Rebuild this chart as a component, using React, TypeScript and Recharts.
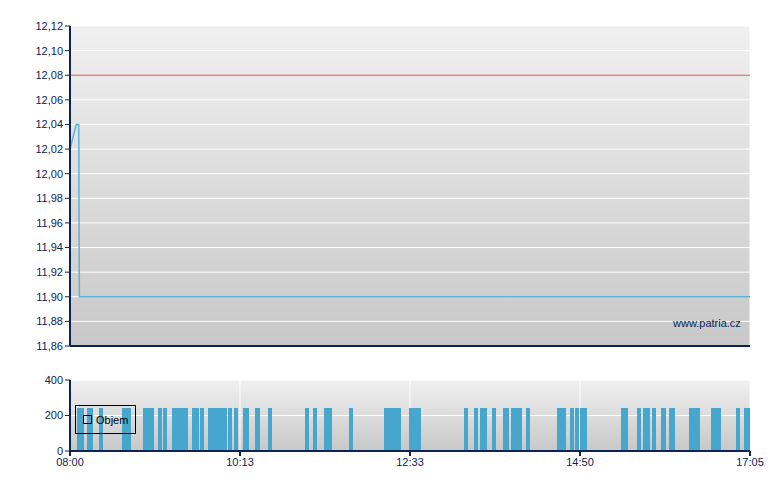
import React from 'react';
import {
  LineChart,
  Line,
  BarChart,
  Bar,
  XAxis,
  YAxis,
  CartesianGrid,
  ReferenceLine,
  Legend,
} from 'recharts';

// time axis is in minutes after the 08:00 open
const timeTicks = [0, 136.25, 272.5, 408.75, 545];
const timeLabels = ['08:00', '10:13', '12:33', '14:50', '17:05'];

// price line
const priceMinutes = [0, 5, 7, 7.5, 545];
const prices = [12.02, 12.04, 12.04, 11.9, 11.9];
const referencePrice = 12.08;
const priceTicks = [11.86, 11.88, 11.9, 11.92, 11.94, 11.96, 11.98, 12.0, 12.02, 12.04, 12.06, 12.08, 12.1, 12.12];

// volume (Objem) per trade
const volumeMinutes = [
  7, 10, 15, 17, 25, 43, 45, 47, 60, 63, 66, 72, 76, 83, 86, 89, 91, 93,
  99, 102, 106, 112, 115, 118, 121, 124, 128, 133, 140, 142, 150, 151, 160,
  190, 196, 205, 208, 225, 253, 256, 259, 262, 264, 273, 276, 278, 280,
  317, 325, 330, 333, 340, 349, 350, 355, 358, 361, 367,
  392, 394, 396, 402, 406, 410, 413, 443, 446, 456, 461, 463, 468, 475, 476,
  482, 483, 498, 501, 503, 515, 518, 520, 535, 542, 543,
];
const volumes = [
  240, 240, 240, 240, 240, 240, 240, 240, 240, 240, 240, 240, 240, 240, 240, 240, 240, 240,
  240, 240, 240, 240, 240, 240, 240, 240, 240, 240, 240, 240, 240, 240, 240,
  240, 240, 240, 240, 240, 240, 240, 240, 240, 240, 240, 240, 240, 240,
  240, 240, 240, 240, 240, 240, 240, 240, 240, 240, 240,
  240, 240, 240, 240, 240, 240, 240, 240, 240, 240, 240, 240, 240, 240, 240,
  240, 240, 240, 240, 240, 240, 240, 240, 240, 240, 240,
];
const volumeTicks = [0, 200, 400];

const NAVY = '#0c2454';
const FONT = '"Liberation Sans", Arial, sans-serif';

const priceData = priceMinutes.map((t, i) => ({ t, price: prices[i] }));
const volumeData = volumeMinutes.map((t, i) => ({ t, objem: volumes[i] }));

const fmtTime = (v: number) => timeLabels[timeTicks.indexOf(v)] ?? '';
const fmtPrice = (v: number) => v.toFixed(2).replace('.', ',');

const tickStyle = { fontSize: 11, fill: NAVY, fontFamily: FONT };

// every trade drawn as a fixed ~4px bar centred on its time
const VolumeBar = (props: any) => {
  const { x, y, width, height, fill } = props;
  if (!height || height <= 0) return null;
  const cx = x + width / 2;
  return (
    <rect
      x={Math.round(cx - 2)}
      y={Math.round(y)}
      width={4}
      height={Math.round(y + height) - Math.round(y)}
      fill={fill}
      shapeRendering="crispEdges"
    />
  );
};

const LegendBox = () => (
  <div
    style={{
      boxSizing: 'border-box',
      width: 61,
      height: 29,
      border: '1px solid #000',
      display: 'flex',
      alignItems: 'center',
      paddingLeft: 7,
      fontSize: 11,
      fontFamily: FONT,
      color: '#000',
    }}
  >
    <span
      style={{
        display: 'inline-block',
        boxSizing: 'border-box',
        width: 9,
        height: 9,
        border: '1px solid #000',
        marginRight: 4,
      }}
    />
    Objem
  </div>
);

export default function App() {
  return (
    <div style={{ position: 'absolute', left: 0, top: 0, width: 780, height: 490, background: '#fff', fontFamily: FONT }}>
      <div style={{ position: 'absolute', left: 0, top: 0 }}>
        <LineChart width={780} height={360} data={priceData} margin={{ top: 26, right: 30, bottom: 0, left: 0 }}>
          <defs>
            <linearGradient id="bgTop" x1="0" y1="0" x2="0" y2="1">
              <stop offset="0%" stopColor="#f0f0f0" />
              <stop offset="100%" stopColor="#c8c8c8" />
            </linearGradient>
          </defs>
          <CartesianGrid stroke="#ffffff" strokeWidth={1} fill="url(#bgTop)" />
          <XAxis
            dataKey="t"
            type="number"
            domain={[0, 545]}
            ticks={timeTicks}
            tick={false}
            tickSize={5}
            height={14}
            axisLine={{ stroke: NAVY, strokeWidth: 2 }}
            tickLine={{ stroke: NAVY, strokeWidth: 2 }}
          />
          <YAxis
            type="number"
            domain={[11.86, 12.12]}
            ticks={priceTicks}
            tickFormatter={fmtPrice}
            width={70}
            tickSize={5}
            tick={tickStyle}
            axisLine={{ stroke: NAVY, strokeWidth: 2 }}
            tickLine={{ stroke: NAVY, strokeWidth: 1 }}
            interval={0}
          />
          <ReferenceLine y={referencePrice} stroke="#e24c4c" strokeWidth={1} />
          <Line
            type="linear"
            dataKey="price"
            stroke="#5eb1dc"
            strokeWidth={1.5}
            dot={false}
            isAnimationActive={false}
          />
        </LineChart>
        <div
          style={{
            position: 'absolute',
            left: 673,
            top: 316,
            fontSize: 11,
            color: NAVY,
            fontFamily: FONT,
            lineHeight: '14px',
          }}
        >
          www.patria.cz
        </div>
      </div>
      <div style={{ position: 'absolute', left: 0, top: 360 }}>
        <BarChart width={780} height={121} data={volumeData} margin={{ top: 20, right: 30, bottom: 0, left: 0 }}>
          <defs>
            <linearGradient id="bgBottom" x1="0" y1="0" x2="0" y2="1">
              <stop offset="0%" stopColor="#f0f0f0" />
              <stop offset="100%" stopColor="#c8c8c8" />
            </linearGradient>
          </defs>
          <CartesianGrid stroke="#ffffff" strokeWidth={1} fill="url(#bgBottom)" />
          <XAxis
            dataKey="t"
            type="number"
            domain={[0, 545]}
            ticks={timeTicks}
            tickFormatter={fmtTime}
            tickSize={5}
            height={30}
            tick={tickStyle}
            axisLine={{ stroke: NAVY, strokeWidth: 2 }}
            tickLine={{ stroke: NAVY, strokeWidth: 2 }}
            interval={0}
          />
          <YAxis
            type="number"
            domain={[0, 400]}
            ticks={volumeTicks}
            width={70}
            tickSize={5}
            tick={tickStyle}
            axisLine={{ stroke: NAVY, strokeWidth: 2 }}
            tickLine={{ stroke: NAVY, strokeWidth: 1 }}
            interval={0}
          />
          <Legend
            layout="horizontal"
            verticalAlign="middle"
            align="center"
            content={<LegendBox />}
            wrapperStyle={{ left: 75, top: 45, width: 61, height: 29 }}
          />
          <Bar dataKey="objem" name="Objem" fill="#46a6cd" shape={<VolumeBar />} isAnimationActive={false} />
        </BarChart>
      </div>
    </div>
  );
}
